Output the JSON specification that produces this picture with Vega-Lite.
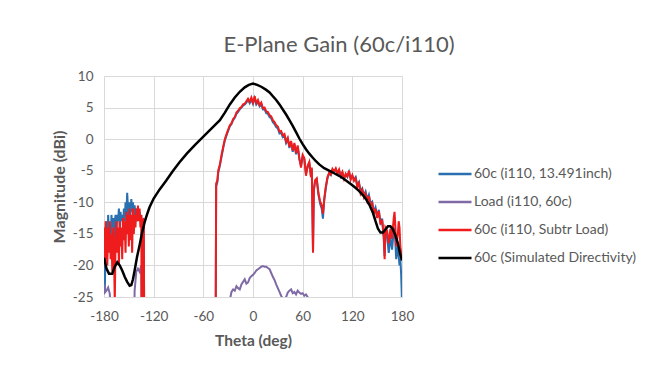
{
  "$schema": "https://vega.github.io/schema/vega-lite/v6.json",
  "width": 298,
  "height": 221,
  "autosize": {"type": "none"},
  "padding": {"left": 104, "top": 76, "right": 263, "bottom": 72},
  "background": "white",
  "config": {
    "font": "Lato",
    "view": {"stroke": null},
    "axis": {
      "grid": true, "gridColor": "#d9d9d9", "gridWidth": 1, "domain": false, "ticks": false, "labelFlush": false,
      "labelExpr": "replace(datum.label, '\u2212', '-')",
      "labelColor": "#595959", "labelFontSize": 13.5, "titleColor": "#595959", "titleFontSize": 15.5, "titleFontWeight": "bold"
    }
  },
  "title": {"text": "E-Plane Gain (60c/i110)", "fontSize": 22, "fontWeight": "normal", "color": "#595959", "anchor": "middle", "frame": "group", "dx": 86, "offset": 12},
  "data": {"values": [
    {"s":"60c (i110, 13.491inch)","t":-180,"v":-20},{"s":"60c (i110, 13.491inch)","t":-179,"v":-24},{"s":"60c (i110, 13.491inch)","t":-178,"v":-16},{"s":"60c (i110, 13.491inch)","t":-177,"v":-13},{"s":"60c (i110, 13.491inch)","t":-176,"v":-18},{"s":"60c (i110, 13.491inch)","t":-175,"v":-12},{"s":"60c (i110, 13.491inch)","t":-174,"v":-15},{"s":"60c (i110, 13.491inch)","t":-173,"v":-13.5},{"s":"60c (i110, 13.491inch)","t":-172,"v":-17},{"s":"60c (i110, 13.491inch)","t":-171,"v":-12},{"s":"60c (i110, 13.491inch)","t":-170,"v":-14},{"s":"60c (i110, 13.491inch)","t":-169,"v":-12.5},{"s":"60c (i110, 13.491inch)","t":-168,"v":-16},{"s":"60c (i110, 13.491inch)","t":-167,"v":-13},{"s":"60c (i110, 13.491inch)","t":-166,"v":-12},{"s":"60c (i110, 13.491inch)","t":-165,"v":-15},{"s":"60c (i110, 13.491inch)","t":-164,"v":-12},{"s":"60c (i110, 13.491inch)","t":-163,"v":-13},{"s":"60c (i110, 13.491inch)","t":-162,"v":-11},{"s":"60c (i110, 13.491inch)","t":-161,"v":-14},{"s":"60c (i110, 13.491inch)","t":-160,"v":-11.5},{"s":"60c (i110, 13.491inch)","t":-159,"v":-13},{"s":"60c (i110, 13.491inch)","t":-158,"v":-12},{"s":"60c (i110, 13.491inch)","t":-157,"v":-14},{"s":"60c (i110, 13.491inch)","t":-156,"v":-11},{"s":"60c (i110, 13.491inch)","t":-155,"v":-13},{"s":"60c (i110, 13.491inch)","t":-154,"v":-10},{"s":"60c (i110, 13.491inch)","t":-153,"v":-12},{"s":"60c (i110, 13.491inch)","t":-152,"v":-8.5},{"s":"60c (i110, 13.491inch)","t":-151,"v":-11},{"s":"60c (i110, 13.491inch)","t":-150,"v":-13},{"s":"60c (i110, 13.491inch)","t":-149,"v":-10},{"s":"60c (i110, 13.491inch)","t":-148,"v":-12},{"s":"60c (i110, 13.491inch)","t":-147,"v":-9.5},{"s":"60c (i110, 13.491inch)","t":-146,"v":-11.5},{"s":"60c (i110, 13.491inch)","t":-145,"v":-10},{"s":"60c (i110, 13.491inch)","t":-144,"v":-12},{"s":"60c (i110, 13.491inch)","t":-143,"v":-10.5},{"s":"60c (i110, 13.491inch)","t":-142,"v":-12},{"s":"60c (i110, 13.491inch)","t":-141,"v":-11},{"s":"60c (i110, 13.491inch)","t":-140,"v":-13},{"s":"60c (i110, 13.491inch)","t":-139,"v":-11},{"s":"60c (i110, 13.491inch)","t":-138,"v":-12},{"s":"60c (i110, 13.491inch)","t":-137,"v":-11.5},{"s":"60c (i110, 13.491inch)","t":-136,"v":-13},{"s":"60c (i110, 13.491inch)","t":-135,"v":-12},{"s":"60c (i110, 13.491inch)","t":-134,"v":-14},{"s":"60c (i110, 13.491inch)","t":-133,"v":-13},{"s":"60c (i110, 13.491inch)","t":-132,"v":-14},{"s":"60c (i110, 13.491inch)","t":-131,"v":-40},
    {"s":"60c (i110, 13.491inch)","t":-46,"v":-40},{"s":"60c (i110, 13.491inch)","t":-45,"v":-25},{"s":"60c (i110, 13.491inch)","t":-44.5,"v":-7.5},{"s":"60c (i110, 13.491inch)","t":-43,"v":-6.8},{"s":"60c (i110, 13.491inch)","t":-42,"v":-5.3},{"s":"60c (i110, 13.491inch)","t":-40,"v":-4.2},{"s":"60c (i110, 13.491inch)","t":-38,"v":-2.8},{"s":"60c (i110, 13.491inch)","t":-36,"v":-1.4},{"s":"60c (i110, 13.491inch)","t":-34,"v":-0.2},{"s":"60c (i110, 13.491inch)","t":-32,"v":0.6},{"s":"60c (i110, 13.491inch)","t":-30,"v":1.3},{"s":"60c (i110, 13.491inch)","t":-28,"v":2.0},{"s":"60c (i110, 13.491inch)","t":-26,"v":2.4},{"s":"60c (i110, 13.491inch)","t":-24,"v":3.0},{"s":"60c (i110, 13.491inch)","t":-22,"v":3.4},{"s":"60c (i110, 13.491inch)","t":-20,"v":4.0},{"s":"60c (i110, 13.491inch)","t":-18,"v":4.3},{"s":"60c (i110, 13.491inch)","t":-16,"v":4.7},{"s":"60c (i110, 13.491inch)","t":-14,"v":5.0},{"s":"60c (i110, 13.491inch)","t":-12,"v":5.3},{"s":"60c (i110, 13.491inch)","t":-10,"v":5.5},{"s":"60c (i110, 13.491inch)","t":-8,"v":5.8},{"s":"60c (i110, 13.491inch)","t":-6,"v":6.2},{"s":"60c (i110, 13.491inch)","t":-4,"v":5.7},{"s":"60c (i110, 13.491inch)","t":-2,"v":6.3},{"s":"60c (i110, 13.491inch)","t":0,"v":5.6},{"s":"60c (i110, 13.491inch)","t":2,"v":6.5},{"s":"60c (i110, 13.491inch)","t":4,"v":5.5},{"s":"60c (i110, 13.491inch)","t":6,"v":5.9},{"s":"60c (i110, 13.491inch)","t":8,"v":5.2},{"s":"60c (i110, 13.491inch)","t":10,"v":5.5},{"s":"60c (i110, 13.491inch)","t":12,"v":4.7},{"s":"60c (i110, 13.491inch)","t":14,"v":4.7},{"s":"60c (i110, 13.491inch)","t":16,"v":4.1},{"s":"60c (i110, 13.491inch)","t":18,"v":4.0},{"s":"60c (i110, 13.491inch)","t":20,"v":3.5},{"s":"60c (i110, 13.491inch)","t":22,"v":3.3},{"s":"60c (i110, 13.491inch)","t":24,"v":2.7},{"s":"60c (i110, 13.491inch)","t":26,"v":2.4},{"s":"60c (i110, 13.491inch)","t":28,"v":1.9},{"s":"60c (i110, 13.491inch)","t":30,"v":1.7},{"s":"60c (i110, 13.491inch)","t":32,"v":0.9},{"s":"60c (i110, 13.491inch)","t":34,"v":1.0},{"s":"60c (i110, 13.491inch)","t":36,"v":0.3},{"s":"60c (i110, 13.491inch)","t":38,"v":0.5},{"s":"60c (i110, 13.491inch)","t":40,"v":-0.6},{"s":"60c (i110, 13.491inch)","t":42,"v":0.0},{"s":"60c (i110, 13.491inch)","t":44,"v":-1.4},{"s":"60c (i110, 13.491inch)","t":46,"v":-0.5},{"s":"60c (i110, 13.491inch)","t":48,"v":-2.0},{"s":"60c (i110, 13.491inch)","t":50,"v":-0.8},{"s":"60c (i110, 13.491inch)","t":52,"v":-2.4},{"s":"60c (i110, 13.491inch)","t":54,"v":-1.2},{"s":"60c (i110, 13.491inch)","t":56,"v":-3.2},{"s":"60c (i110, 13.491inch)","t":58,"v":-4.2},{"s":"60c (i110, 13.491inch)","t":60,"v":-2.7},{"s":"60c (i110, 13.491inch)","t":62,"v":-3.2},{"s":"60c (i110, 13.491inch)","t":64,"v":-5.5},{"s":"60c (i110, 13.491inch)","t":66,"v":-4.4},{"s":"60c (i110, 13.491inch)","t":68,"v":-3.8},{"s":"60c (i110, 13.491inch)","t":70,"v":-5.8},{"s":"60c (i110, 13.491inch)","t":71,"v":-4.7},{"s":"60c (i110, 13.491inch)","t":72.5,"v":-17.5},{"s":"60c (i110, 13.491inch)","t":73.5,"v":-8.2},{"s":"60c (i110, 13.491inch)","t":75,"v":-6.7},{"s":"60c (i110, 13.491inch)","t":77,"v":-6.4},{"s":"60c (i110, 13.491inch)","t":79,"v":-8.8},{"s":"60c (i110, 13.491inch)","t":81,"v":-10.2},{"s":"60c (i110, 13.491inch)","t":83,"v":-11},{"s":"60c (i110, 13.491inch)","t":84.5,"v":-12.6},{"s":"60c (i110, 13.491inch)","t":86,"v":-9.8},{"s":"60c (i110, 13.491inch)","t":88,"v":-7.7},{"s":"60c (i110, 13.491inch)","t":90,"v":-6.2},{"s":"60c (i110, 13.491inch)","t":92,"v":-5.4},{"s":"60c (i110, 13.491inch)","t":94,"v":-5.7},{"s":"60c (i110, 13.491inch)","t":96,"v":-4.9},{"s":"60c (i110, 13.491inch)","t":98,"v":-5.2},{"s":"60c (i110, 13.491inch)","t":100,"v":-4.8},{"s":"60c (i110, 13.491inch)","t":102,"v":-5.5},{"s":"60c (i110, 13.491inch)","t":104,"v":-5.0},{"s":"60c (i110, 13.491inch)","t":106,"v":-5.9},{"s":"60c (i110, 13.491inch)","t":108,"v":-5.3},{"s":"60c (i110, 13.491inch)","t":110,"v":-6.2},{"s":"60c (i110, 13.491inch)","t":112,"v":-5.6},{"s":"60c (i110, 13.491inch)","t":114,"v":-6.0},{"s":"60c (i110, 13.491inch)","t":116,"v":-5.2},{"s":"60c (i110, 13.491inch)","t":118,"v":-6.3},{"s":"60c (i110, 13.491inch)","t":120,"v":-5.8},{"s":"60c (i110, 13.491inch)","t":122,"v":-6.4},{"s":"60c (i110, 13.491inch)","t":124,"v":-6.0},{"s":"60c (i110, 13.491inch)","t":126,"v":-7.3},{"s":"60c (i110, 13.491inch)","t":128,"v":-6.8},{"s":"60c (i110, 13.491inch)","t":130,"v":-8.2},{"s":"60c (i110, 13.491inch)","t":132,"v":-7.8},{"s":"60c (i110, 13.491inch)","t":134,"v":-8.9},{"s":"60c (i110, 13.491inch)","t":136,"v":-8.3},{"s":"60c (i110, 13.491inch)","t":138,"v":-9.5},{"s":"60c (i110, 13.491inch)","t":140,"v":-8.8},{"s":"60c (i110, 13.491inch)","t":142,"v":-10.2},{"s":"60c (i110, 13.491inch)","t":144,"v":-9.9},{"s":"60c (i110, 13.491inch)","t":146,"v":-11.5},{"s":"60c (i110, 13.491inch)","t":148,"v":-10.8},{"s":"60c (i110, 13.491inch)","t":150,"v":-12.2},{"s":"60c (i110, 13.491inch)","t":152,"v":-11.2},{"s":"60c (i110, 13.491inch)","t":154,"v":-13.2},{"s":"60c (i110, 13.491inch)","t":156,"v":-12.6},{"s":"60c (i110, 13.491inch)","t":158,"v":-15.8},{"s":"60c (i110, 13.491inch)","t":159,"v":-18.5},{"s":"60c (i110, 13.491inch)","t":160,"v":-14.5},{"s":"60c (i110, 13.491inch)","t":162,"v":-15.5},{"s":"60c (i110, 13.491inch)","t":164,"v":-18},{"s":"60c (i110, 13.491inch)","t":166,"v":-15.5},{"s":"60c (i110, 13.491inch)","t":168,"v":-17.5},{"s":"60c (i110, 13.491inch)","t":170,"v":-14.5},{"s":"60c (i110, 13.491inch)","t":171,"v":-14},{"s":"60c (i110, 13.491inch)","t":172,"v":-16.5},{"s":"60c (i110, 13.491inch)","t":173,"v":-19},{"s":"60c (i110, 13.491inch)","t":175,"v":-17},{"s":"60c (i110, 13.491inch)","t":176,"v":-18.5},{"s":"60c (i110, 13.491inch)","t":177,"v":-20},{"s":"60c (i110, 13.491inch)","t":178,"v":-19},{"s":"60c (i110, 13.491inch)","t":179,"v":-21.5},{"s":"60c (i110, 13.491inch)","t":179.6,"v":-24},{"s":"60c (i110, 13.491inch)","t":180,"v":-26},

    {"s":"Load (i110, 60c)","t":-180,"v":-23},{"s":"Load (i110, 60c)","t":-179,"v":-24.3},{"s":"Load (i110, 60c)","t":-177,"v":-24},{"s":"Load (i110, 60c)","t":-175,"v":-23.5},{"s":"Load (i110, 60c)","t":-173,"v":-24.5},{"s":"Load (i110, 60c)","t":-171,"v":-30},{"s":"Load (i110, 60c)","t":-165,"v":-40},{"s":"Load (i110, 60c)","t":-145,"v":-40},{"s":"Load (i110, 60c)","t":-143,"v":-24},{"s":"Load (i110, 60c)","t":-141,"v":-21},{"s":"Load (i110, 60c)","t":-139,"v":-20.5},{"s":"Load (i110, 60c)","t":-137,"v":-21},{"s":"Load (i110, 60c)","t":-135,"v":-20},{"s":"Load (i110, 60c)","t":-134,"v":-40},
    {"s":"Load (i110, 60c)","t":-30,"v":-40},{"s":"Load (i110, 60c)","t":-28,"v":-25.5},{"s":"Load (i110, 60c)","t":-26,"v":-24.2},{"s":"Load (i110, 60c)","t":-24,"v":-23.8},{"s":"Load (i110, 60c)","t":-22,"v":-24},{"s":"Load (i110, 60c)","t":-20,"v":-23.3},{"s":"Load (i110, 60c)","t":-18,"v":-23.6},{"s":"Load (i110, 60c)","t":-16,"v":-23.8},{"s":"Load (i110, 60c)","t":-14,"v":-23},{"s":"Load (i110, 60c)","t":-12,"v":-22.6},{"s":"Load (i110, 60c)","t":-10,"v":-22.2},{"s":"Load (i110, 60c)","t":-8,"v":-22.9},{"s":"Load (i110, 60c)","t":-6,"v":-22.7},{"s":"Load (i110, 60c)","t":-4,"v":-22},{"s":"Load (i110, 60c)","t":-2,"v":-21.7},{"s":"Load (i110, 60c)","t":0,"v":-21.5},{"s":"Load (i110, 60c)","t":2,"v":-21.2},{"s":"Load (i110, 60c)","t":4,"v":-20.8},{"s":"Load (i110, 60c)","t":6,"v":-20.6},{"s":"Load (i110, 60c)","t":8,"v":-20.4},{"s":"Load (i110, 60c)","t":10,"v":-20.2},{"s":"Load (i110, 60c)","t":12,"v":-20.1},{"s":"Load (i110, 60c)","t":14,"v":-20.2},{"s":"Load (i110, 60c)","t":16,"v":-20.2},{"s":"Load (i110, 60c)","t":18,"v":-20.4},{"s":"Load (i110, 60c)","t":20,"v":-20.6},{"s":"Load (i110, 60c)","t":22,"v":-21.2},{"s":"Load (i110, 60c)","t":24,"v":-21.8},{"s":"Load (i110, 60c)","t":26,"v":-22.3},{"s":"Load (i110, 60c)","t":28,"v":-23},{"s":"Load (i110, 60c)","t":30,"v":-23.6},{"s":"Load (i110, 60c)","t":32,"v":-24.2},{"s":"Load (i110, 60c)","t":34,"v":-24.8},{"s":"Load (i110, 60c)","t":36,"v":-25.3},{"s":"Load (i110, 60c)","t":38,"v":-25.5},{"s":"Load (i110, 60c)","t":40,"v":-25},{"s":"Load (i110, 60c)","t":42,"v":-24.3},{"s":"Load (i110, 60c)","t":44,"v":-24},{"s":"Load (i110, 60c)","t":46,"v":-23.8},{"s":"Load (i110, 60c)","t":48,"v":-24.4},{"s":"Load (i110, 60c)","t":50,"v":-24.2},{"s":"Load (i110, 60c)","t":52,"v":-24.6},{"s":"Load (i110, 60c)","t":54,"v":-24},{"s":"Load (i110, 60c)","t":56,"v":-24.3},{"s":"Load (i110, 60c)","t":58,"v":-24.5},{"s":"Load (i110, 60c)","t":60,"v":-24.4},{"s":"Load (i110, 60c)","t":62,"v":-24.8},{"s":"Load (i110, 60c)","t":64,"v":-24.6},{"s":"Load (i110, 60c)","t":66,"v":-25},{"s":"Load (i110, 60c)","t":68,"v":-25.5},{"s":"Load (i110, 60c)","t":72,"v":-40},

    {"s":"60c (i110, Subtr Load)","t":-180,"v":-14},{"s":"60c (i110, Subtr Load)","t":-179,"v":-19},{"s":"60c (i110, Subtr Load)","t":-178,"v":-13},{"s":"60c (i110, Subtr Load)","t":-177,"v":-17},{"s":"60c (i110, Subtr Load)","t":-176,"v":-20},{"s":"60c (i110, Subtr Load)","t":-175,"v":-14},{"s":"60c (i110, Subtr Load)","t":-174,"v":-18},{"s":"60c (i110, Subtr Load)","t":-173,"v":-13},{"s":"60c (i110, Subtr Load)","t":-172,"v":-19},{"s":"60c (i110, Subtr Load)","t":-171,"v":-15},{"s":"60c (i110, Subtr Load)","t":-170,"v":-21},{"s":"60c (i110, Subtr Load)","t":-169,"v":-14},{"s":"60c (i110, Subtr Load)","t":-168,"v":-17},{"s":"60c (i110, Subtr Load)","t":-167,"v":-26},{"s":"60c (i110, Subtr Load)","t":-166,"v":-16},{"s":"60c (i110, Subtr Load)","t":-165,"v":-13},{"s":"60c (i110, Subtr Load)","t":-164,"v":-18},{"s":"60c (i110, Subtr Load)","t":-163,"v":-14},{"s":"60c (i110, Subtr Load)","t":-162,"v":-20},{"s":"60c (i110, Subtr Load)","t":-161,"v":-13},{"s":"60c (i110, Subtr Load)","t":-160,"v":-17},{"s":"60c (i110, Subtr Load)","t":-159,"v":-14},{"s":"60c (i110, Subtr Load)","t":-158,"v":-19},{"s":"60c (i110, Subtr Load)","t":-157,"v":-12.5},{"s":"60c (i110, Subtr Load)","t":-156,"v":-16},{"s":"60c (i110, Subtr Load)","t":-155,"v":-13},{"s":"60c (i110, Subtr Load)","t":-154,"v":-18},{"s":"60c (i110, Subtr Load)","t":-153,"v":-11.5},{"s":"60c (i110, Subtr Load)","t":-152,"v":-15},{"s":"60c (i110, Subtr Load)","t":-151,"v":-12},{"s":"60c (i110, Subtr Load)","t":-150,"v":-17},{"s":"60c (i110, Subtr Load)","t":-149,"v":-11},{"s":"60c (i110, Subtr Load)","t":-148,"v":-16},{"s":"60c (i110, Subtr Load)","t":-147,"v":-12},{"s":"60c (i110, Subtr Load)","t":-146,"v":-18},{"s":"60c (i110, Subtr Load)","t":-145,"v":-11},{"s":"60c (i110, Subtr Load)","t":-144,"v":-15},{"s":"60c (i110, Subtr Load)","t":-143,"v":-12},{"s":"60c (i110, Subtr Load)","t":-142,"v":-14},{"s":"60c (i110, Subtr Load)","t":-141,"v":-11},{"s":"60c (i110, Subtr Load)","t":-140,"v":-13},{"s":"60c (i110, Subtr Load)","t":-139,"v":-10.5},{"s":"60c (i110, Subtr Load)","t":-138,"v":-13},{"s":"60c (i110, Subtr Load)","t":-137,"v":-11},{"s":"60c (i110, Subtr Load)","t":-136,"v":-14},{"s":"60c (i110, Subtr Load)","t":-135,"v":-12},{"s":"60c (i110, Subtr Load)","t":-134.2,"v":-40},{"s":"60c (i110, Subtr Load)","t":-133.2,"v":-13},{"s":"60c (i110, Subtr Load)","t":-132,"v":-12.5},{"s":"60c (i110, Subtr Load)","t":-131,"v":-40},
    {"s":"60c (i110, Subtr Load)","t":-46,"v":-40},{"s":"60c (i110, Subtr Load)","t":-45,"v":-25},{"s":"60c (i110, Subtr Load)","t":-44.5,"v":-7},{"s":"60c (i110, Subtr Load)","t":-43,"v":-6.5},{"s":"60c (i110, Subtr Load)","t":-42,"v":-5},{"s":"60c (i110, Subtr Load)","t":-40,"v":-4},{"s":"60c (i110, Subtr Load)","t":-38,"v":-2.5},{"s":"60c (i110, Subtr Load)","t":-36,"v":-1.2},{"s":"60c (i110, Subtr Load)","t":-34,"v":0},{"s":"60c (i110, Subtr Load)","t":-32,"v":0.8},{"s":"60c (i110, Subtr Load)","t":-30,"v":1.5},{"s":"60c (i110, Subtr Load)","t":-28,"v":2.2},{"s":"60c (i110, Subtr Load)","t":-26,"v":2.5},{"s":"60c (i110, Subtr Load)","t":-24,"v":3.2},{"s":"60c (i110, Subtr Load)","t":-22,"v":3.5},{"s":"60c (i110, Subtr Load)","t":-20,"v":4.2},{"s":"60c (i110, Subtr Load)","t":-18,"v":4.5},{"s":"60c (i110, Subtr Load)","t":-16,"v":4.9},{"s":"60c (i110, Subtr Load)","t":-14,"v":5.1},{"s":"60c (i110, Subtr Load)","t":-12,"v":5.5},{"s":"60c (i110, Subtr Load)","t":-10,"v":5.6},{"s":"60c (i110, Subtr Load)","t":-8,"v":6.0},{"s":"60c (i110, Subtr Load)","t":-6,"v":6.4},{"s":"60c (i110, Subtr Load)","t":-4,"v":5.9},{"s":"60c (i110, Subtr Load)","t":-2,"v":6.6},{"s":"60c (i110, Subtr Load)","t":0,"v":5.8},{"s":"60c (i110, Subtr Load)","t":2,"v":6.8},{"s":"60c (i110, Subtr Load)","t":4,"v":5.7},{"s":"60c (i110, Subtr Load)","t":6,"v":6.2},{"s":"60c (i110, Subtr Load)","t":8,"v":5.4},{"s":"60c (i110, Subtr Load)","t":10,"v":5.8},{"s":"60c (i110, Subtr Load)","t":12,"v":4.9},{"s":"60c (i110, Subtr Load)","t":14,"v":5.0},{"s":"60c (i110, Subtr Load)","t":16,"v":4.4},{"s":"60c (i110, Subtr Load)","t":18,"v":4.3},{"s":"60c (i110, Subtr Load)","t":20,"v":3.8},{"s":"60c (i110, Subtr Load)","t":22,"v":3.6},{"s":"60c (i110, Subtr Load)","t":24,"v":3.0},{"s":"60c (i110, Subtr Load)","t":26,"v":2.7},{"s":"60c (i110, Subtr Load)","t":28,"v":2.2},{"s":"60c (i110, Subtr Load)","t":30,"v":2.0},{"s":"60c (i110, Subtr Load)","t":32,"v":1.2},{"s":"60c (i110, Subtr Load)","t":34,"v":1.3},{"s":"60c (i110, Subtr Load)","t":36,"v":0.6},{"s":"60c (i110, Subtr Load)","t":38,"v":0.8},{"s":"60c (i110, Subtr Load)","t":40,"v":-0.4},{"s":"60c (i110, Subtr Load)","t":42,"v":0.2},{"s":"60c (i110, Subtr Load)","t":44,"v":-1.2},{"s":"60c (i110, Subtr Load)","t":46,"v":-0.3},{"s":"60c (i110, Subtr Load)","t":48,"v":-1.8},{"s":"60c (i110, Subtr Load)","t":50,"v":-0.6},{"s":"60c (i110, Subtr Load)","t":52,"v":-2.2},{"s":"60c (i110, Subtr Load)","t":54,"v":-1.0},{"s":"60c (i110, Subtr Load)","t":56,"v":-3.0},{"s":"60c (i110, Subtr Load)","t":58,"v":-4.5},{"s":"60c (i110, Subtr Load)","t":60,"v":-2.5},{"s":"60c (i110, Subtr Load)","t":62,"v":-3.0},{"s":"60c (i110, Subtr Load)","t":64,"v":-5.8},{"s":"60c (i110, Subtr Load)","t":66,"v":-4.2},{"s":"60c (i110, Subtr Load)","t":68,"v":-3.6},{"s":"60c (i110, Subtr Load)","t":70,"v":-6.0},{"s":"60c (i110, Subtr Load)","t":71,"v":-4.5},{"s":"60c (i110, Subtr Load)","t":72.5,"v":-18},{"s":"60c (i110, Subtr Load)","t":73.5,"v":-8},{"s":"60c (i110, Subtr Load)","t":75,"v":-6.5},{"s":"60c (i110, Subtr Load)","t":77,"v":-6.2},{"s":"60c (i110, Subtr Load)","t":79,"v":-8.5},{"s":"60c (i110, Subtr Load)","t":81,"v":-9.8},{"s":"60c (i110, Subtr Load)","t":83,"v":-10.5},{"s":"60c (i110, Subtr Load)","t":84.5,"v":-11.8},{"s":"60c (i110, Subtr Load)","t":86,"v":-9.5},{"s":"60c (i110, Subtr Load)","t":88,"v":-7.5},{"s":"60c (i110, Subtr Load)","t":90,"v":-6},{"s":"60c (i110, Subtr Load)","t":92,"v":-5.3},{"s":"60c (i110, Subtr Load)","t":94,"v":-5.6},{"s":"60c (i110, Subtr Load)","t":96,"v":-4.7},{"s":"60c (i110, Subtr Load)","t":98,"v":-5.1},{"s":"60c (i110, Subtr Load)","t":100,"v":-4.6},{"s":"60c (i110, Subtr Load)","t":102,"v":-5.4},{"s":"60c (i110, Subtr Load)","t":104,"v":-4.8},{"s":"60c (i110, Subtr Load)","t":106,"v":-5.8},{"s":"60c (i110, Subtr Load)","t":108,"v":-5.2},{"s":"60c (i110, Subtr Load)","t":110,"v":-6.3},{"s":"60c (i110, Subtr Load)","t":112,"v":-5.5},{"s":"60c (i110, Subtr Load)","t":114,"v":-5.9},{"s":"60c (i110, Subtr Load)","t":116,"v":-5.0},{"s":"60c (i110, Subtr Load)","t":118,"v":-6.4},{"s":"60c (i110, Subtr Load)","t":120,"v":-5.7},{"s":"60c (i110, Subtr Load)","t":122,"v":-6.6},{"s":"60c (i110, Subtr Load)","t":124,"v":-6.2},{"s":"60c (i110, Subtr Load)","t":126,"v":-7.6},{"s":"60c (i110, Subtr Load)","t":128,"v":-7.0},{"s":"60c (i110, Subtr Load)","t":130,"v":-8.6},{"s":"60c (i110, Subtr Load)","t":132,"v":-8.0},{"s":"60c (i110, Subtr Load)","t":134,"v":-9.2},{"s":"60c (i110, Subtr Load)","t":136,"v":-8.6},{"s":"60c (i110, Subtr Load)","t":138,"v":-9.8},{"s":"60c (i110, Subtr Load)","t":140,"v":-9.0},{"s":"60c (i110, Subtr Load)","t":142,"v":-10.5},{"s":"60c (i110, Subtr Load)","t":144,"v":-10.2},{"s":"60c (i110, Subtr Load)","t":146,"v":-11.8},{"s":"60c (i110, Subtr Load)","t":148,"v":-11.0},{"s":"60c (i110, Subtr Load)","t":150,"v":-12.5},{"s":"60c (i110, Subtr Load)","t":152,"v":-11.4},{"s":"60c (i110, Subtr Load)","t":154,"v":-13.5},{"s":"60c (i110, Subtr Load)","t":156,"v":-12.8},{"s":"60c (i110, Subtr Load)","t":158,"v":-15.5},{"s":"60c (i110, Subtr Load)","t":159,"v":-19},{"s":"60c (i110, Subtr Load)","t":160,"v":-14},{"s":"60c (i110, Subtr Load)","t":162,"v":-14.5},{"s":"60c (i110, Subtr Load)","t":164,"v":-16.5},{"s":"60c (i110, Subtr Load)","t":166,"v":-14.2},{"s":"60c (i110, Subtr Load)","t":168,"v":-15.8},{"s":"60c (i110, Subtr Load)","t":170,"v":-12.5},{"s":"60c (i110, Subtr Load)","t":171,"v":-11.5},{"s":"60c (i110, Subtr Load)","t":172,"v":-14},{"s":"60c (i110, Subtr Load)","t":173,"v":-17},{"s":"60c (i110, Subtr Load)","t":175,"v":-15},{"s":"60c (i110, Subtr Load)","t":176,"v":-13},{"s":"60c (i110, Subtr Load)","t":177,"v":-14},{"s":"60c (i110, Subtr Load)","t":178,"v":-17},{"s":"60c (i110, Subtr Load)","t":179,"v":-18},{"s":"60c (i110, Subtr Load)","t":180,"v":-19},

    {"s":"60c (Simulated Directivity)","t":-180,"v":-18.8},{"s":"60c (Simulated Directivity)","t":-177,"v":-20.5},{"s":"60c (Simulated Directivity)","t":-174,"v":-21.3},{"s":"60c (Simulated Directivity)","t":-170,"v":-21.3},{"s":"60c (Simulated Directivity)","t":-167,"v":-20.2},{"s":"60c (Simulated Directivity)","t":-164,"v":-19.5},{"s":"60c (Simulated Directivity)","t":-161,"v":-20},{"s":"60c (Simulated Directivity)","t":-158,"v":-20.8},{"s":"60c (Simulated Directivity)","t":-155,"v":-21.8},{"s":"60c (Simulated Directivity)","t":-152,"v":-22.6},{"s":"60c (Simulated Directivity)","t":-149,"v":-23.2},{"s":"60c (Simulated Directivity)","t":-147,"v":-23.1},{"s":"60c (Simulated Directivity)","t":-145,"v":-22.2},{"s":"60c (Simulated Directivity)","t":-143,"v":-20.8},{"s":"60c (Simulated Directivity)","t":-140,"v":-18.6},{"s":"60c (Simulated Directivity)","t":-137,"v":-16.8},{"s":"60c (Simulated Directivity)","t":-134,"v":-14.8},{"s":"60c (Simulated Directivity)","t":-131,"v":-13.2},{"s":"60c (Simulated Directivity)","t":-128,"v":-11.9},{"s":"60c (Simulated Directivity)","t":-125,"v":-10.8},{"s":"60c (Simulated Directivity)","t":-120,"v":-9.4},{"s":"60c (Simulated Directivity)","t":-113,"v":-8.0},{"s":"60c (Simulated Directivity)","t":-105,"v":-6.6},{"s":"60c (Simulated Directivity)","t":-97,"v":-5.1},{"s":"60c (Simulated Directivity)","t":-89,"v":-3.7},{"s":"60c (Simulated Directivity)","t":-80,"v":-2.3},{"s":"60c (Simulated Directivity)","t":-70,"v":-0.9},{"s":"60c (Simulated Directivity)","t":-60,"v":0.4},{"s":"60c (Simulated Directivity)","t":-50,"v":1.7},{"s":"60c (Simulated Directivity)","t":-40,"v":3.0},{"s":"60c (Simulated Directivity)","t":-34,"v":4.2},{"s":"60c (Simulated Directivity)","t":-28,"v":5.5},{"s":"60c (Simulated Directivity)","t":-22,"v":6.6},{"s":"60c (Simulated Directivity)","t":-16,"v":7.5},{"s":"60c (Simulated Directivity)","t":-10,"v":8.2},{"s":"60c (Simulated Directivity)","t":-5,"v":8.6},{"s":"60c (Simulated Directivity)","t":0,"v":8.8},{"s":"60c (Simulated Directivity)","t":5,"v":8.6},{"s":"60c (Simulated Directivity)","t":10,"v":8.3},{"s":"60c (Simulated Directivity)","t":16,"v":7.8},{"s":"60c (Simulated Directivity)","t":20,"v":7.4},{"s":"60c (Simulated Directivity)","t":24,"v":6.8},{"s":"60c (Simulated Directivity)","t":28,"v":6.2},{"s":"60c (Simulated Directivity)","t":32,"v":5.5},{"s":"60c (Simulated Directivity)","t":36,"v":4.7},{"s":"60c (Simulated Directivity)","t":40,"v":3.9},{"s":"60c (Simulated Directivity)","t":44,"v":3.0},{"s":"60c (Simulated Directivity)","t":48,"v":2.1},{"s":"60c (Simulated Directivity)","t":52,"v":1.1},{"s":"60c (Simulated Directivity)","t":56,"v":0.1},{"s":"60c (Simulated Directivity)","t":60,"v":-0.8},{"s":"60c (Simulated Directivity)","t":64,"v":-1.6},{"s":"60c (Simulated Directivity)","t":68,"v":-2.3},{"s":"60c (Simulated Directivity)","t":72,"v":-2.9},{"s":"60c (Simulated Directivity)","t":76,"v":-3.5},{"s":"60c (Simulated Directivity)","t":80,"v":-4.0},{"s":"60c (Simulated Directivity)","t":86,"v":-4.6},{"s":"60c (Simulated Directivity)","t":92,"v":-5.0},{"s":"60c (Simulated Directivity)","t":98,"v":-5.4},{"s":"60c (Simulated Directivity)","t":104,"v":-5.8},{"s":"60c (Simulated Directivity)","t":110,"v":-6.3},{"s":"60c (Simulated Directivity)","t":116,"v":-6.9},{"s":"60c (Simulated Directivity)","t":122,"v":-7.5},{"s":"60c (Simulated Directivity)","t":128,"v":-8.2},{"s":"60c (Simulated Directivity)","t":133,"v":-8.9},{"s":"60c (Simulated Directivity)","t":137,"v":-9.6},{"s":"60c (Simulated Directivity)","t":141,"v":-10.5},{"s":"60c (Simulated Directivity)","t":145,"v":-11.7},{"s":"60c (Simulated Directivity)","t":148,"v":-13},{"s":"60c (Simulated Directivity)","t":151,"v":-14.2},{"s":"60c (Simulated Directivity)","t":154,"v":-14.8},{"s":"60c (Simulated Directivity)","t":157,"v":-14.8},{"s":"60c (Simulated Directivity)","t":160,"v":-14.3},{"s":"60c (Simulated Directivity)","t":163,"v":-13.8},{"s":"60c (Simulated Directivity)","t":166,"v":-13.8},{"s":"60c (Simulated Directivity)","t":169,"v":-14.3},{"s":"60c (Simulated Directivity)","t":172,"v":-15.2},{"s":"60c (Simulated Directivity)","t":175,"v":-16.5},{"s":"60c (Simulated Directivity)","t":178,"v":-18.3},{"s":"60c (Simulated Directivity)","t":180,"v":-19.2}
  ]},
  "encoding": {
    "x": {"field": "t", "type": "quantitative", "title": "Theta (deg)",
      "scale": {"domain": [-180, 180], "nice": false, "zero": false},
      "axis": {"values": [-180, -120, -60, 0, 60, 120, 180], "labelPadding": 12, "titlePadding": 11}},
    "y": {"field": "v", "type": "quantitative", "title": "Magnitude  (dBi)",
      "scale": {"domain": [-25, 10], "nice": false, "zero": false},
      "axis": {"values": [-25, -20, -15, -10, -5, 0, 5, 10], "labelPadding": 11, "titlePadding": 5, "titleFontSize": 16}},
    "color": {"field": "s", "type": "nominal",
      "scale": {"domain": ["60c (i110, 13.491inch)", "Load (i110, 60c)", "60c (i110, Subtr Load)", "60c (Simulated Directivity)"],
                "range": ["#2a6fb0", "#7f6aa6", "#ee1c1c", "#000000"]},
      "legend": {"title": null, "orient": "none", "legendX": 333, "legendY": 80, "symbolType": "stroke", "symbolSize": 1089, "symbolStrokeWidth": 2.5, "labelFontSize": 14, "labelColor": "#595959", "labelOffset": 1, "rowPadding": 3, "labelLimit": 300}}
  },
  "layer": [
    {"transform": [{"filter": "datum.s === '60c (i110, 13.491inch)'"}], "mark": {"type": "line", "strokeWidth": 2, "clip": true}},
    {"transform": [{"filter": "datum.s === 'Load (i110, 60c)'"}], "mark": {"type": "line", "strokeWidth": 2, "clip": true}},
    {"transform": [{"filter": "datum.s === '60c (i110, Subtr Load)'"}], "mark": {"type": "line", "strokeWidth": 2, "clip": true}},
    {"transform": [{"filter": "datum.s === '60c (Simulated Directivity)'"}], "mark": {"type": "line", "strokeWidth": 2.5, "clip": true}}
  ]
}
